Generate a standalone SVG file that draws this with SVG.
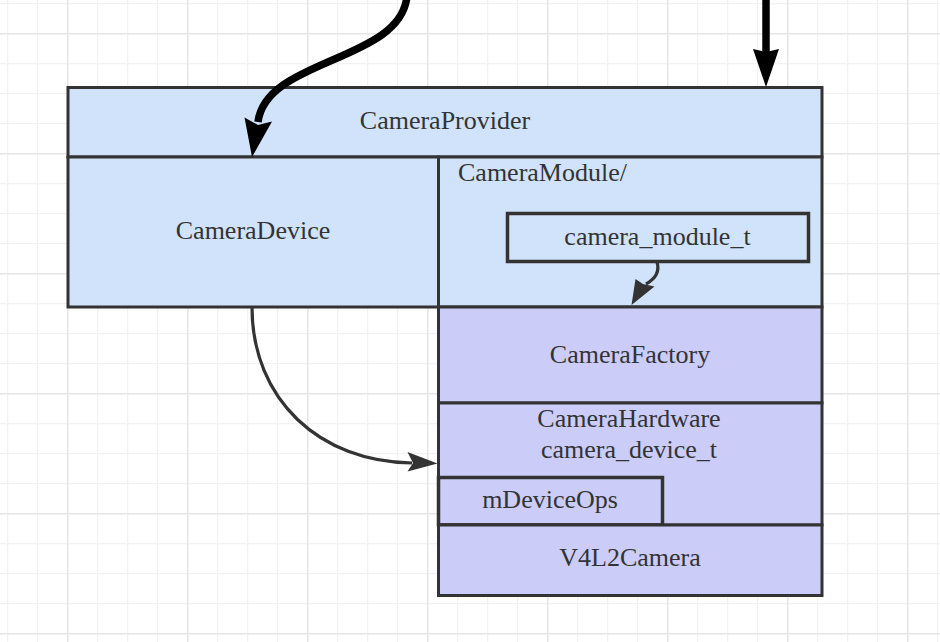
<svg xmlns="http://www.w3.org/2000/svg" width="940" height="642" viewBox="0 0 940 642">
<style>
  .blue{fill:#d0e3fa;stroke:#333;stroke-width:3}
  .lav{fill:#ccccf9;stroke:#333;stroke-width:3}
  .inner{fill:none;stroke:#333;stroke-width:3.5}
  text{font-family:"Liberation Serif","Times New Roman",serif;font-size:26px;fill:#333}
  .c{text-anchor:middle}
  .thick{fill:none;stroke:#000;stroke-width:7.5}
  .thin{fill:none;stroke:#333;stroke-width:3.2}
</style>
<defs>
  <pattern id="minor" patternUnits="userSpaceOnUse" x="7" y="3" width="30" height="30">
    <path d="M0.5 0V30M0 0.5H30" stroke="#f2f2f2" stroke-width="1.5" fill="none"/>
  </pattern>
  <pattern id="major" patternUnits="userSpaceOnUse" x="67" y="33" width="120" height="120">
    <path d="M0.5 0V120M0 0.5H120" stroke="#e6e6e6" stroke-width="2" fill="none"/>
  </pattern>
</defs>
<rect width="940" height="642" fill="#fff"/>
<rect width="940" height="642" fill="url(#minor)"/>
<rect width="940" height="642" fill="url(#major)"/>

<g id="CameraProvider">
  <rect class="blue" x="68" y="87.5" width="754" height="69.5"/>
  <text class="c" x="445" y="129">CameraProvider</text>
</g>
<g id="CameraDevice">
  <rect class="blue" x="68" y="157" width="370.5" height="150"/>
  <text class="c" x="253" y="239">CameraDevice</text>
</g>
<g id="CameraModule">
  <rect class="blue" x="438.5" y="157" width="383.5" height="150"/>
  <text x="458" y="181">CameraModule/</text>
</g>
<g id="camera_module_t">
  <rect class="inner" x="507.5" y="213.5" width="301" height="48"/>
  <text class="c" x="657.5" y="245">camera_module_t</text>
</g>
<g id="CameraFactory">
  <rect class="lav" x="438.5" y="307" width="383.5" height="96"/>
  <text class="c" x="630" y="363">CameraFactory</text>
</g>
<g id="CameraHardware">
  <rect class="lav" x="438.5" y="403" width="383.5" height="122"/>
  <text class="c" x="629" y="427">CameraHardware</text>
  <text class="c" x="629" y="458">camera_device_t</text>
</g>
<g id="mDeviceOps">
  <rect class="inner" x="438.5" y="477.5" width="224" height="47.5"/>
  <text class="c" x="550" y="508">mDeviceOps</text>
</g>
<g id="V4L2Camera">
  <rect class="lav" x="438.5" y="525" width="383.5" height="70.5"/>
  <text class="c" x="630" y="566">V4L2Camera</text>
</g>

<g id="connectors">
  <path class="thick" d="M407 -4 C401 62 266 58 258 122"/>
  <path d="M252 157 L244.5 117.5 L258 125 L272 121.5 Z" fill="#000"/>
  <path class="thick" d="M766 -2 V54"/>
  <path d="M766 87 L753 49 L766 52 L779 49 Z" fill="#000"/>
  <path class="thin" d="M657 262 C660 272 655 279 646 284"/>
  <path d="M631.5 305 L635.5 279 L643 284 L654.5 286.5 Z" fill="#333"/>
  <path class="thin" d="M252 307 C252 400 320 462 412 463"/>
  <path d="M437.5 463.5 L407.5 452 L413 463 L407.5 471.5 Z" fill="#333"/>
</g>
</svg>
